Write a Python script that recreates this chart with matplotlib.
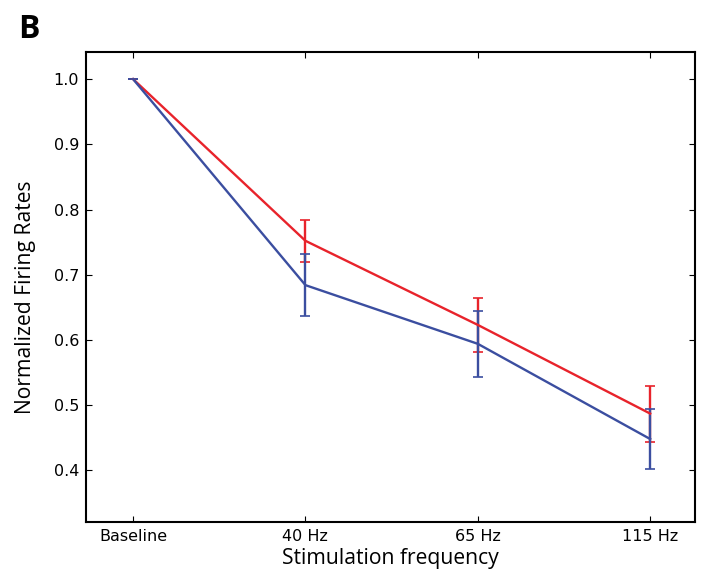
import matplotlib.pyplot as plt
import numpy as np

# dados
categorias = ['Baseline', '40 Hz', '65 Hz', '115 Hz']
vermelho = [1.0, 0.752, 0.623, 0.487]
vermelho_err = [0.0, 0.032, 0.042, 0.043]
azul = [1.0, 0.684, 0.594, 0.448]
azul_err = [0.0, 0.048, 0.051, 0.046]
yticks = [0.4, 0.5, 0.6, 0.7, 0.8, 0.9, 1.0]

cor_v = '#e8232b'
cor_a = '#3b4ea0'

fig = plt.figure(figsize=(7.01, 5.85), dpi=100)
ax = fig.add_axes([0.1227, 0.108, 0.8687, 0.8036])
x = np.arange(len(categorias))

ax.errorbar(x, vermelho, yerr=vermelho_err, color=cor_v, lw=1.7, capsize=3.5, elinewidth=1.7, capthick=1.2)
ax.errorbar(x, azul, yerr=azul_err, color=cor_a, lw=1.7, capsize=3.5, elinewidth=1.7, capthick=1.2)

ax.set_xlim(-0.273, 3.26)
ax.set_ylim(0.321, 1.042)
ax.set_xticks(x)
ax.set_xticklabels(categorias)
ax.set_yticks(yticks)
ax.set_yticklabels([f'{v:.1f}' for v in yticks])
ax.tick_params(direction='in', length=4, width=0.8, top=True, right=True,
               labelsize=11.5, pad=5, colors='black')
for s in ax.spines.values():
    s.set_linewidth(1.5)

ax.set_xlabel('Stimulation frequency', family='Open Sans', fontsize=15.2, labelpad=3)
ax.set_ylabel('Normalized Firing Rates', family='Open Sans', fontsize=15.2)
ax.yaxis.set_label_coords(-0.082, 0.478)

fig.text(0.026, 0.935, 'B', family='Open Sans', fontweight='bold', fontsize=23)

fig.savefig('out.png', dpi=100)
